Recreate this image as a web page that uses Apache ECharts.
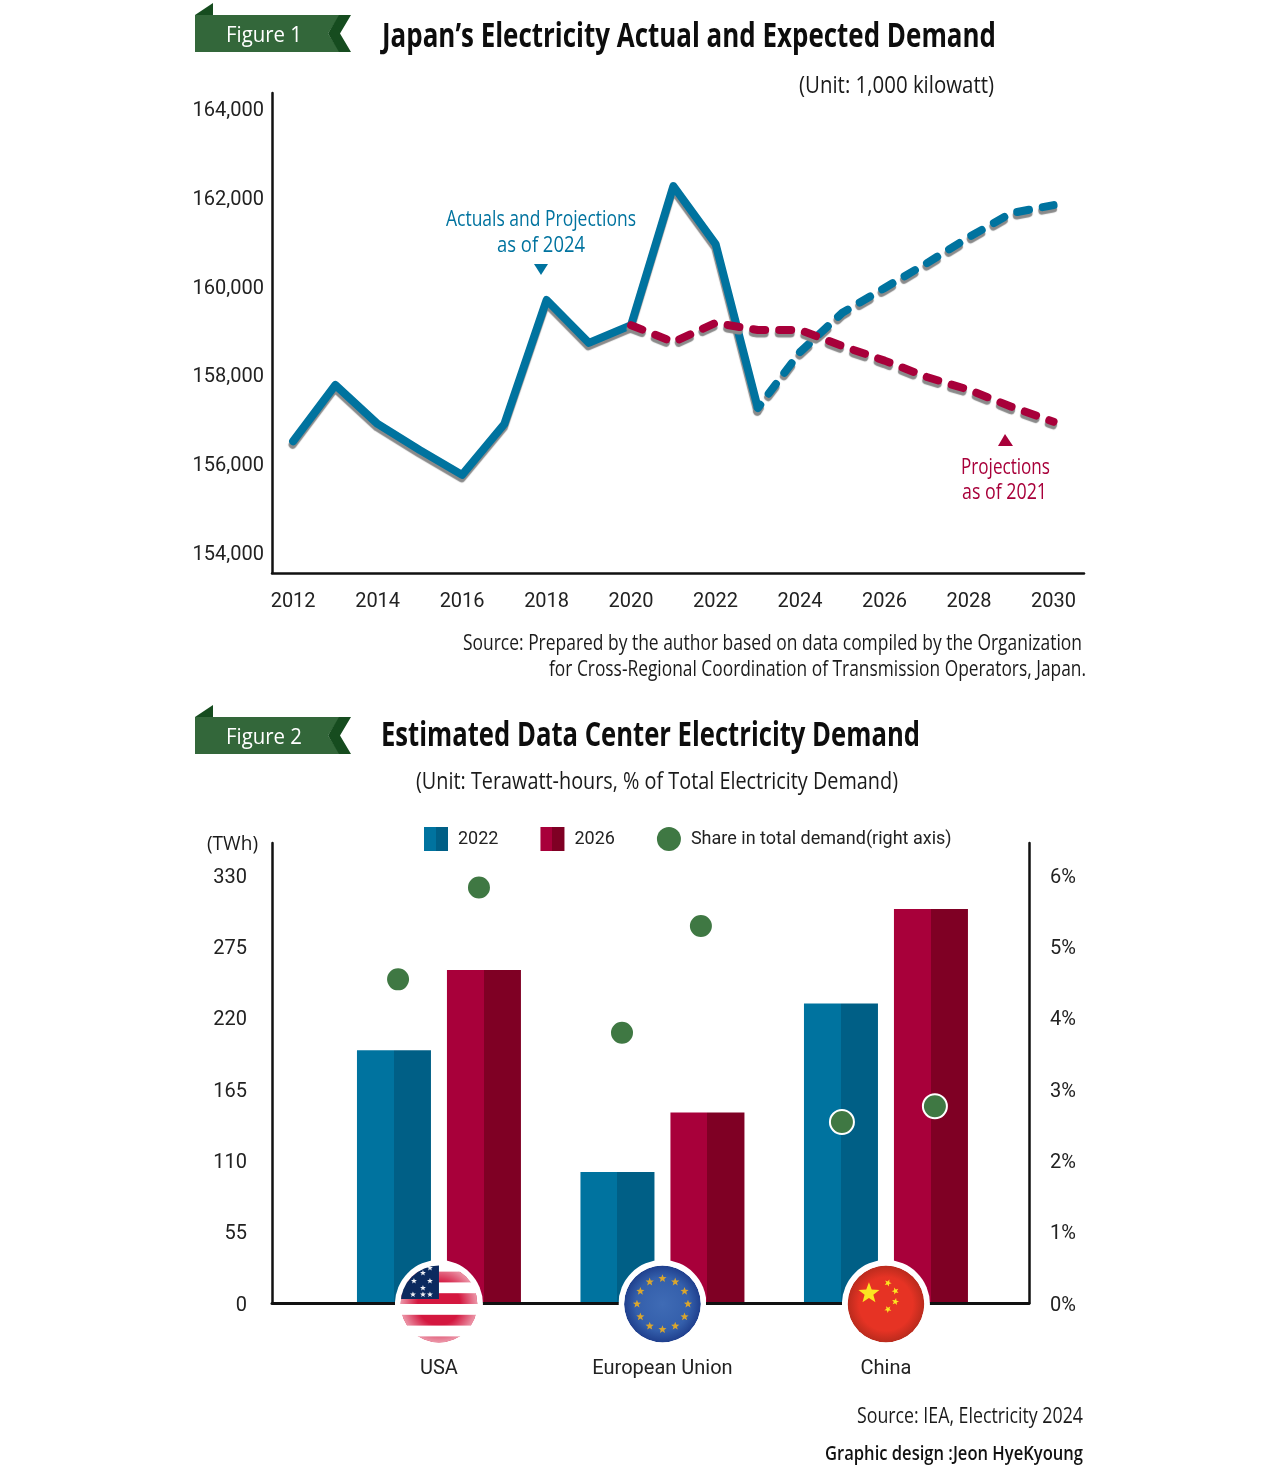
<!DOCTYPE html>
<html><head><meta charset="utf-8">
<style>html,body{margin:0;padding:0;background:#fff}#c{width:1280px;height:1467px}</style>
<script src="https://cdn.jsdelivr.net/npm/echarts@6/dist/echarts.min.js"></script>
</head><body><div id="c"></div>
<script>
// ---- Figure 1 data
const years = [2012,2013,2014,2015,2016,2017,2018,2019,2020,2021,2022,2023,2024,2025,2026,2027,2028,2029,2030];
const actuals = [156500,157770,156890,156300,155740,156890,159690,158720,159120,162260,160950,157250,null,null,null,null,null,null,null];
const proj2024 = [null,null,null,null,null,null,null,null,null,null,null,157250,158515,159400,159960,160520,161110,161650,161830];
const proj2021 = [null,null,null,null,null,null,null,null,159120,158740,159170,159010,159010,158650,158320,157950,157660,157280,156940];
const yearTicks = [2012,2014,2016,2018,2020,2022,2024,2026,2028,2030];
const demandTicks = [154000,156000,158000,160000,162000,164000];
// ---- Figure 2 data
const regions = ['USA','European Union','China'];
const twh2022 = [195,101,231];
const twh2026 = [257,147,304];
const shareDodge = [-0.183,0.179,-0.181,0.172,-0.197,0.219];
const shareValues = [4.54,5.83,3.79,5.29,2.54,2.76];
const twhTicks = [0,55,110,165,220,275,330];
const shareTicks = [0,1,2,3,4,5,6];

const BLUE='#00739f', BLUE_D='#005f86', RED='#a8003a', RED_D='#7f0024', GREEN='#3f7843', BANNER='#33673a', BANNER_D='#164c1f';
const FONT='"Open Sans"', AXISFONT='Roboto';

function split(a,b){return {type:'linear',x:0,y:0,x2:1,y2:0,colorStops:[{offset:0,color:a},{offset:.5,color:a},{offset:.5,color:b},{offset:1,color:b}]};}

const mctx=document.createElement('canvas').getContext('2d');
function fit(text,left,cy,width,size,fill,weight){
  weight=weight||400;
  mctx.font=weight+' '+size+'px '+FONT;
  const w=mctx.measureText(text).width;
  return {type:'text',x:left,y:cy+1.7,scaleX:width/w,z:20,silent:true,
    style:{text:text,fontFamily:FONT,fontSize:size,fontWeight:weight,fill:fill||'#1a1a1a',align:'left',verticalAlign:'middle'}};
}
function poly(points,fill){return {type:'polygon',z:19,silent:true,shape:{points:points},style:{fill:fill}};}
function banner(dy){
  return [
    poly([[195,15+dy],[213,3+dy],[213,15+dy]],BANNER_D),
    poly([[195,15+dy],[340,15+dy],[328,33.5+dy],[340,52+dy],[195,52+dy]],BANNER),
    poly([[339,15+dy],[351,15+dy],[340,33.5+dy],[351,52+dy],[339,52+dy],[328,33.5+dy]],BANNER_D)
  ];
}
// flags
function star(cx,cy,r,rot){
  let p=[];
  for(let i=0;i<10;i++){const a=-Math.PI/2+(rot||0)+i*Math.PI/5,q=i%2?r*0.42:r;p.push((cx+q*Math.cos(a)).toFixed(2)+','+(cy+q*Math.sin(a)).toFixed(2));}
  return '<polygon points="'+p.join(' ')+'" fill="FILL"/>';
}
function flagSvg(inner,defs){
  const s='<svg xmlns="http://www.w3.org/2000/svg" width="176" height="176" viewBox="-44 -44 88 88"><defs><clipPath id="k"><circle r="38.4"/></clipPath>'+defs+'</defs><circle r="44" fill="#fff"/><g clip-path="url(#k)">'+inner+'</g></svg>';
  return 'image://data:image/svg+xml;charset=utf-8,'+encodeURIComponent(s);
}
function usFlag(){
  let g='<rect x="-40" y="-40" width="80" height="80" fill="#fff"/>';
  [-32.4,-10.8,10.8,32.4].forEach(y=>{g+='<rect x="-40" y="'+y+'" width="80" height="10.8" fill="#d4173f"/>';});
  g+='<circle r="38.4" fill="url(#w)"/>';
  g+='<rect x="-40" y="-40" width="40" height="35" fill="#0b2a5f"/>';
  [[-9,-9.5],[-16,-9.5],[-26,-9.5],[-9,-23],[-16,-16],[-25,-23],[-16,-31],[-9,-36]].forEach(c=>{g+=star(c[0],c[1],3.1).replace('FILL','#eef0f4');});
  return flagSvg(g,'<radialGradient id="w"><stop offset=".55" stop-color="#fff" stop-opacity="0"/><stop offset="1" stop-color="#fff" stop-opacity=".55"/></radialGradient>');
}
function euFlag(){
  let g='<circle r="38.4" fill="url(#b)"/>';
  for(let i=0;i<12;i++){const a=i*Math.PI/6;g+=star(25.5*Math.sin(a),-25.5*Math.cos(a),4.3).replace('FILL','#d9a62e');}
  return flagSvg(g,'<radialGradient id="b"><stop offset="0" stop-color="#3f6bb5"/><stop offset=".7" stop-color="#345fab"/><stop offset="1" stop-color="#1f3f8d"/></radialGradient>');
}
function cnFlag(){
  let g='<circle r="38.4" fill="url(#r)"/>';
  g+=star(-17,-10.7,11).replace('FILL','#fbe521');
  [[2,-21,.4],[9.4,-13,.9],[9.4,-2.3,.2],[2,5.3,.7]].forEach(c=>{g+=star(c[0],c[1],3.7,c[2]).replace('FILL','#fbe521');});
  return flagSvg(g,'<radialGradient id="r"><stop offset=".7" stop-color="#e63324"/><stop offset="1" stop-color="#b92b1d"/></radialGradient>');
}
const flagSymbols=[usFlag(),euFlag(),cnFlag()];

const axisLine={show:true,onZero:false,lineStyle:{color:'#111',width:2.5}};
const noSplit={show:false};
const lbl={color:'#222',fontFamily:AXISFONT,fontSize:20};
function ylbl(margin,ticks,fmt){
  return {margin:margin,customValues:ticks,padding:[5,0,0,0],formatter:v=>'{t|'+fmt(v)+'}',
    rich:{t:{color:'#222',fontFamily:AXISFONT,fontSize:20}}};
}
function lineSeries(values,color,dash,name,offset){
  return {type:'line',name:name,xAxisIndex:0,yAxisIndex:0,showSymbol:false,symbol:'none',silent:true,
    data:years.map((y,i)=>[y,values[i]===null?null:values[i]]),
    lineStyle:{color:color,width:8,cap:'round',join:'round',type:dash?[12,14]:'solid',dashOffset:offset||0,shadowColor:'#8a8a8a',shadowOffsetY:3.5,shadowOffsetX:-0.5,shadowBlur:1}};
}
const shareData=shareValues.map((v,i)=>[Math.floor(i/2)+shareDodge[i],v]);

const option={
  animation:false,backgroundColor:'#fff',
  grid:[{left:272,top:93,width:812,height:480},{left:272,top:843,width:757,height:460}],
  legend:{left:424,top:827,itemWidth:24,itemHeight:24,itemGap:42,padding:0,
    data:[{name:'2022',icon:'rect'},{name:'2026',icon:'rect'},{name:'Share in total demand(right axis)',icon:'circle',itemStyle:{borderWidth:0}}],
    textStyle:{color:'#222',fontFamily:AXISFONT,fontSize:18,padding:[2,0,0,5]}},
  xAxis:[
    {type:'value',gridIndex:0,min:2011.5,max:2030.72,axisLine:axisLine,axisTick:{show:false},splitLine:noSplit,
      axisLabel:Object.assign({},lbl,{margin:18.5,customValues:yearTicks,formatter:v=>String(v)})},
    {type:'value',gridIndex:1,min:-0.747,max:2.64,axisLine:Object.assign({},axisLine,{lineStyle:{color:'#111',width:3}}),axisTick:{show:false},splitLine:noSplit,z:3,
      axisLabel:Object.assign({},lbl,{margin:55.5,customValues:[0,1,2],formatter:v=>regions[Math.round(v)]})}
  ],
  yAxis:[
    {type:'value',gridIndex:0,min:153526,max:164361,axisLine:axisLine,axisTick:{show:false},splitLine:noSplit,
      axisLabel:ylbl(8,demandTicks,v=>v.toLocaleString('en-US'))},
    {type:'value',gridIndex:1,min:0,max:354.9,axisLine:axisLine,axisTick:{show:false},splitLine:noSplit,
      axisLabel:ylbl(25,twhTicks,v=>String(v))},
    {type:'value',gridIndex:1,position:'right',min:0,max:6.453,axisLine:axisLine,axisTick:{show:false},splitLine:noSplit,
      axisLabel:ylbl(21,shareTicks,v=>v+'%')}
  ],
  series:[
    lineSeries(actuals,BLUE,false,'Actuals'),
    lineSeries(proj2024,BLUE,true,'Projections as of 2024',8),
    lineSeries(proj2021,RED,true,'Projections as of 2021'),
    {type:'bar',name:'2022',xAxisIndex:1,yAxisIndex:1,barWidth:74,barGap:'21.6%',silent:true,
      data:twh2022.map((v,i)=>[i,v]),itemStyle:{color:split(BLUE,BLUE_D)}},
    {type:'bar',name:'2026',xAxisIndex:1,yAxisIndex:1,barWidth:74,barGap:'21.6%',silent:true,
      data:twh2026.map((v,i)=>[i,v]),itemStyle:{color:split(RED,RED_D)}},
    {type:'scatter',name:'Share in total demand(right axis)',xAxisIndex:1,yAxisIndex:2,symbolSize:24,z:6,silent:true,
      data:shareData,itemStyle:{color:GREEN,opacity:1,borderColor:'#fff',borderWidth:2}},
    {type:'scatter',name:'flags',xAxisIndex:1,yAxisIndex:1,z:8,silent:true,symbolSize:88,clip:false,
      data:regions.map((r,i)=>({value:[i,0],symbol:flagSymbols[i]})),symbolOffset:[0,1],itemStyle:{opacity:1}}
  ],
  graphic:[].concat(
    banner(0),banner(702),
    [
      fit('Figure 1',226,34,76,22,'#fff'),
      fit('Figure 2',226,736,76,22,'#fff'),
      fit('Japan\u2019s Electricity Actual and Expected Demand',382,36,614,34,'#0d0d0d',700),
      fit('Estimated Data Center Electricity Demand',381,735,539,34,'#0d0d0d',700),
      fit('(Unit: 1,000 kilowatt)',799,85,195,23),
      fit('Actuals and Projections',446,218,190,21,BLUE),
      fit('as of 2024',497,244,88,21,BLUE),
      poly([[534,264],[548,264],[541,275]],BLUE),
      poly([[1005,434],[998,446],[1013,446]],RED),
      fit('Projections',961,466,89,21,RED),
      fit('as of 2021',962,491,85,21,RED),
      fit('Source: Prepared by the author based on data compiled by the Organization',463,642,619,21),
      fit('for Cross-Regional Coordination of Transmission Operators, Japan.',549,668,537,21),
      fit('(Unit: Terawatt-hours, % of Total Electricity Demand)',416,781,482,23),
      fit('(TWh)',207,843,51,20),
      fit('Source: IEA, Electricity 2024',857,1415,226,21),
      fit('Graphic design :Jeon HyeKyoung',825,1453,258,20,'#111',600)
    ])
};
echarts.init(document.getElementById('c'),null,{renderer:'canvas'}).setOption(option);
</script></body></html>
